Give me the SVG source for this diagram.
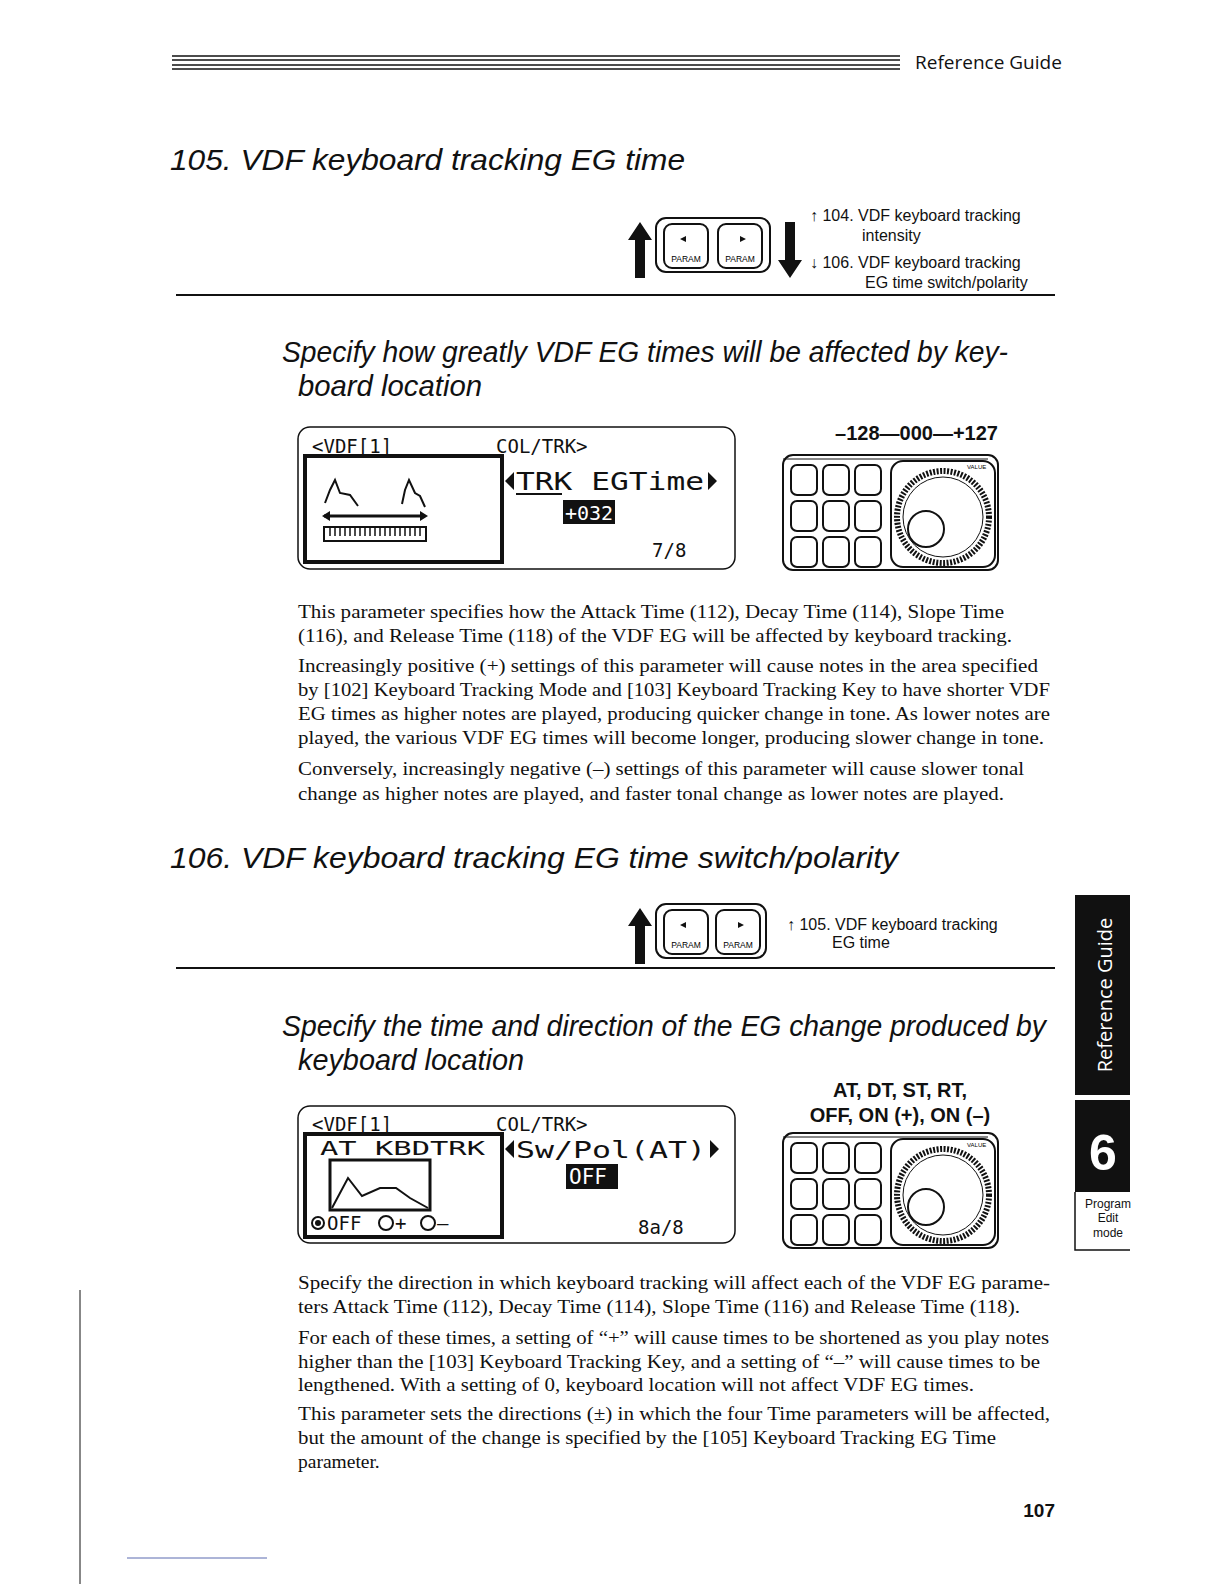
<svg xmlns="http://www.w3.org/2000/svg" width="1224" height="1584" viewBox="0 0 1224 1584">
<style>
.h{font-family:"Liberation Sans",Arial,sans-serif;font-style:italic;font-size:30px;fill:#111}
.b{font-family:"Liberation Serif","Times New Roman",serif;font-size:19.5px;fill:#111}
.n{font-family:"Liberation Sans",Arial,sans-serif;font-size:16px;fill:#111}
.r{font-family:"Liberation Sans",Arial,sans-serif;font-weight:bold;font-size:20px;fill:#111}
.m{font-family:"DejaVu Sans Mono",monospace;font-size:19px;fill:#111}
.ln{stroke:#111;fill:none}
</style>
<defs>
<g id="pad">
<rect x="0" y="0" width="215" height="115" rx="10" fill="#fff" stroke="#111" stroke-width="2"/>
<line x1="0" y1="4" x2="205" y2="4" stroke="#111"/>
<g fill="#fff" stroke="#111" stroke-width="2">
<rect x="8" y="10" width="26" height="30" rx="6"/><rect x="40" y="10" width="26" height="30" rx="6"/><rect x="72" y="10" width="26" height="30" rx="6"/>
<rect x="8" y="46" width="26" height="30" rx="6"/><rect x="40" y="46" width="26" height="30" rx="6"/><rect x="72" y="46" width="26" height="30" rx="6"/>
<rect x="8" y="82" width="26" height="30" rx="6"/><rect x="40" y="82" width="26" height="30" rx="6"/><rect x="72" y="82" width="26" height="30" rx="6"/>
<rect x="108" y="6" width="104" height="106" rx="12"/>
</g>
<circle cx="160" cy="62" r="46" fill="#fff" stroke="#111" stroke-width="6" stroke-dasharray="2 1.5"/>
<circle cx="160" cy="62" r="40" fill="none" stroke="#111"/>
<circle cx="143" cy="74" r="18" fill="#fff" stroke="#111" stroke-width="2"/>
<text x="184" y="14" font-family="Liberation Sans,sans-serif" font-size="6">VALUE</text>
</g>
<g id="btn">
<rect x="0" y="0" width="44" height="44" rx="8" fill="#fff" stroke="#111" stroke-width="2"/>
<text x="22" y="38" text-anchor="middle" font-family="Liberation Sans,sans-serif" font-size="8.5">PARAM</text>
</g>
<path id="up" d="M12 0 L24 18 L17 18 L17 56 L7 56 L7 18 L0 18 Z" fill="#111"/>
</defs>

<g class="ln" stroke-width="1.5">
<line x1="172" y1="56" x2="900" y2="56"/><line x1="172" y1="60" x2="900" y2="60"/><line x1="172" y1="65" x2="900" y2="65"/><line x1="172" y1="69" x2="900" y2="69"/>
</g>
<text x="915" y="69" font-family="Open Sans,sans-serif" font-size="19" fill="#111">Reference Guide</text>

<text class="h" x="170" y="170" textLength="515" lengthAdjust="spacingAndGlyphs">105.  VDF keyboard tracking EG time</text>

<g id="nav1">
<use href="#up" x="628" y="222"/>
<rect x="656" y="218" width="114" height="54" rx="10" fill="#fff" stroke="#111" stroke-width="2"/>
<use href="#btn" x="664" y="224"/><use href="#btn" x="718" y="224"/>
<path d="M686 236 l-6 3 l6 3z M740 236 l6 3 l-6 3z" fill="#111"/>
<use href="#up" x="778" y="222" transform="rotate(180 790 250)"/>
<text class="n" x="810" y="221">↑ 104. VDF keyboard tracking</text>
<text class="n" x="862" y="241">intensity</text>
<text class="n" x="810" y="268">↓ 106. VDF keyboard tracking</text>
<text class="n" x="865" y="288">EG time switch/polarity</text>
</g>
<line class="ln" x1="176" y1="295" x2="1055" y2="295" stroke-width="2"/>

<text class="h" x="282" y="362" textLength="726" lengthAdjust="spacingAndGlyphs">Specify how greatly VDF EG times will be affected by key-</text>
<text class="h" x="298" y="396" textLength="184" lengthAdjust="spacingAndGlyphs">board location</text>

<g id="lcd1">
<rect x="298" y="427" width="437" height="142" rx="12" fill="#fff" stroke="#111" stroke-width="1.5"/>
<text class="m" x="312" y="453">&lt;VDF[1]</text>
<text class="m" x="496" y="453">COL/TRK&gt;</text>
<rect x="305" y="456" width="197" height="106" fill="none" stroke="#111" stroke-width="4"/>
<path class="ln" stroke-width="2" d="M325 503 L330 490 L335 480 L340 493 L350 495 L358 506 M402 504 L405 490 L409 480 L415 493 L420 496 L425 507"/>
<path class="ln" stroke-width="3" d="M324 516 L425 516"/>
<path d="M322 516 l8 -5 v10z M428 516 l-8 -5 v10z" fill="#111"/>
<rect x="324" y="527" width="102" height="14" fill="none" stroke="#111" stroke-width="2"/>
<path class="ln" stroke-width="1.5" d="M330 527v9M335 527v9M340 527v9M345 527v9M350 527v9M355 527v9M360 527v9M365 527v9M370 527v9M375 527v9M380 527v9M385 527v9M390 527v9M395 527v9M400 527v9M405 527v9M410 527v9M415 527v9M420 527v9"/>
<path d="M514 472 l-9 9 l9 9z M708 472 l9 9 l-9 9z" fill="#111"/>
<text x="516" y="490" font-family="DejaVu Sans Mono,monospace" font-size="24" fill="#111" textLength="188" lengthAdjust="spacingAndGlyphs">TRK EGTime</text>
<line class="ln" x1="516" y1="494" x2="562" y2="494" stroke-width="2"/>
<rect x="563" y="500" width="52" height="24" fill="#111"/>
<text x="589" y="520" text-anchor="middle" font-family="DejaVu Sans Mono,monospace" font-size="20" fill="#fff">+032</text>
<text class="m" x="652" y="557">7/8</text>
</g>
<text class="r" x="998" y="440" text-anchor="end">–128—000—+127</text>
<use href="#pad" x="783" y="455"/>

<g class="b">
<text x="298" y="618" textLength="706" lengthAdjust="spacingAndGlyphs">This parameter specifies how the Attack Time (112), Decay Time (114), Slope Time</text>
<text x="298" y="642" textLength="714" lengthAdjust="spacingAndGlyphs">(116), and Release Time (118) of the VDF EG will be affected by keyboard tracking.</text>
<text x="298" y="672" textLength="740" lengthAdjust="spacingAndGlyphs">Increasingly positive (+) settings of this parameter will cause notes in the area specified</text>
<text x="298" y="696" textLength="752" lengthAdjust="spacingAndGlyphs">by [102] Keyboard Tracking Mode and [103] Keyboard Tracking Key to have shorter VDF</text>
<text x="298" y="720" textLength="752" lengthAdjust="spacingAndGlyphs">EG times as higher notes are played, producing quicker change in tone. As lower notes are</text>
<text x="298" y="744" textLength="746" lengthAdjust="spacingAndGlyphs">played, the various VDF EG times will become longer, producing slower change in tone.</text>
<text x="298" y="775" textLength="726" lengthAdjust="spacingAndGlyphs">Conversely, increasingly negative (–) settings of this parameter will cause slower tonal</text>
<text x="298" y="800" textLength="706" lengthAdjust="spacingAndGlyphs">change as higher notes are played, and faster tonal change as lower notes are played.</text>
</g>

<text class="h" x="170" y="868" textLength="728" lengthAdjust="spacingAndGlyphs">106.  VDF keyboard tracking EG time switch/polarity</text>

<g id="nav2">
<use href="#up" x="628" y="908"/>
<rect x="656" y="904" width="110" height="54" rx="10" fill="#fff" stroke="#111" stroke-width="2"/>
<use href="#btn" x="664" y="910"/><use href="#btn" x="716" y="910"/>
<path d="M686 922 l-6 3 l6 3z M738 922 l6 3 l-6 3z" fill="#111"/>
<text class="n" x="787" y="930">↑ 105. VDF keyboard tracking</text>
<text class="n" x="832" y="948">EG time</text>
</g>
<line class="ln" x1="176" y1="968" x2="1055" y2="968" stroke-width="2"/>

<text class="h" x="282" y="1036" textLength="764" lengthAdjust="spacingAndGlyphs">Specify the time and direction of the EG change produced by</text>
<text class="h" x="298" y="1070" textLength="226" lengthAdjust="spacingAndGlyphs">keyboard location</text>

<text class="r" x="900" y="1097" text-anchor="middle">AT, DT, ST, RT,</text>
<text class="r" x="900" y="1122" text-anchor="middle">OFF, ON (+), ON (–)</text>

<g id="lcd2">
<rect x="298" y="1106" width="437" height="137" rx="12" fill="#fff" stroke="#111" stroke-width="1.5"/>
<text class="m" x="312" y="1131">&lt;VDF[1]</text>
<text class="m" x="496" y="1131">COL/TRK&gt;</text>
<rect x="305" y="1134" width="197" height="103" fill="none" stroke="#111" stroke-width="4"/>
<text class="m" x="320" y="1155" font-size="20" textLength="165" lengthAdjust="spacingAndGlyphs">AT KBDTRK</text>
<rect x="330" y="1160" width="100" height="50" fill="none" stroke="#111" stroke-width="3"/>
<path class="ln" stroke-width="2" d="M332 1208 L348 1178 L362 1196 L380 1188 L396 1188 L410 1198 L428 1208"/>
<circle cx="318" cy="1223" r="6" fill="#fff" stroke="#111" stroke-width="2"/><circle cx="318" cy="1223" r="3" fill="#111"/>
<text class="m" x="327" y="1230" font-size="18">OFF</text>
<circle cx="386" cy="1223" r="7" fill="none" stroke="#111" stroke-width="2"/>
<text class="m" x="395" y="1230" font-size="20">+</text>
<circle cx="428" cy="1223" r="7" fill="none" stroke="#111" stroke-width="2"/>
<text class="m" x="437" y="1230" font-size="20">–</text>
<path d="M514 1140 l-9 9 l9 9z M710 1140 l9 9 l-9 9z" fill="#111"/>
<text x="516" y="1158" font-family="DejaVu Sans Mono,monospace" font-size="23" fill="#111" textLength="190" lengthAdjust="spacingAndGlyphs">Sw/Pol(AT)</text>
<rect x="566" y="1164" width="52" height="25" fill="#111"/>
<text x="569" y="1184" font-family="DejaVu Sans Mono,monospace" font-size="21" fill="#fff">OFF</text>
<text class="m" x="638" y="1234">8a/8</text>
</g>
<use href="#pad" x="783" y="1133"/>

<g class="b">
<text x="298" y="1289" textLength="752" lengthAdjust="spacingAndGlyphs">Specify the direction in which keyboard tracking will affect each of the VDF EG parame-</text>
<text x="298" y="1313" textLength="722" lengthAdjust="spacingAndGlyphs">ters Attack Time (112), Decay Time (114), Slope Time (116) and Release Time (118).</text>
<text x="298" y="1344" textLength="751" lengthAdjust="spacingAndGlyphs">For each of these times, a setting of “+” will cause times to be shortened as you play notes</text>
<text x="298" y="1368" textLength="742" lengthAdjust="spacingAndGlyphs">higher than the [103] Keyboard Tracking Key, and a setting of “–” will cause times to be</text>
<text x="298" y="1391" textLength="676" lengthAdjust="spacingAndGlyphs">lengthened. With a setting of 0, keyboard location will not affect VDF EG times.</text>
<text x="298" y="1420" textLength="752" lengthAdjust="spacingAndGlyphs">This parameter sets the directions (±) in which the four Time parameters will be affected,</text>
<text x="298" y="1444" textLength="698" lengthAdjust="spacingAndGlyphs">but the amount of the change is specified by the [105] Keyboard Tracking EG Time</text>
<text x="298" y="1468">parameter.</text>
</g>

<text x="1055" y="1517" text-anchor="end" font-family="Liberation Sans,sans-serif" font-weight="bold" font-size="19" fill="#111">107</text>

<rect x="1075" y="895" width="55" height="200" fill="#111"/>
<text transform="translate(1112 995) rotate(-90)" text-anchor="middle" font-family="Open Sans,sans-serif" font-size="20" fill="#fff">Reference Guide</text>
<rect x="1075" y="1100" width="55" height="92" fill="#111"/>
<text x="1103" y="1170" text-anchor="middle" font-family="Liberation Sans,sans-serif" font-weight="bold" font-size="50" fill="#fff">6</text>
<path class="ln" stroke-width="1.5" d="M1075 1192 V1250 H1130"/>
<g font-family="Liberation Sans,sans-serif" font-size="12" fill="#111" text-anchor="middle">
<text x="1108" y="1208">Program</text><text x="1108" y="1222">Edit</text><text x="1108" y="1237">mode</text>
</g>

<line class="ln" x1="80" y1="1290" x2="80" y2="1584" stroke-width="1"/>
<line x1="127" y1="1558" x2="267" y2="1558" stroke="#5a6ab0" stroke-width="1"/>
</svg>
